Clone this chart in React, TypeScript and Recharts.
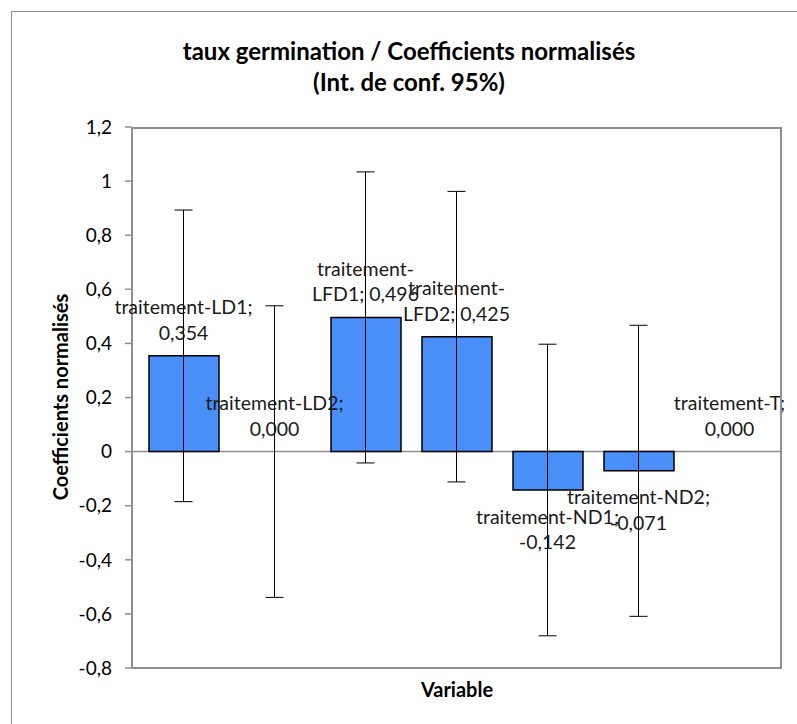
import {
  Bar,
  CartesianGrid,
  ComposedChart,
  ErrorBar,
  LabelList,
  Line,
  XAxis,
  YAxis,
} from "recharts";

const categories = [
  "traitement-LD1",
  "traitement-LD2",
  "traitement-LFD1",
  "traitement-LFD2",
  "traitement-ND1",
  "traitement-ND2",
  "traitement-T",
];
const coefficients = [0.354, 0.0, 0.496, 0.425, -0.142, -0.071, 0.0];
// half width of the 95% confidence interval
const ciHalfWidth = [0.539, 0.539, 0.538, 0.537, 0.539, 0.538, 0.0];
const yTicks = [-0.8, -0.6, -0.4, -0.2, 0, 0.2, 0.4, 0.6, 0.8, 1, 1.2];

const FONT = "Lato, Carlito, Calibri, 'Open Sans', sans-serif";
const GRAY = "#8f8f8f";
const BAR_FILL = "#4a8ff7";

const rows = categories.map((name, i) => ({
  name,
  value: coefficients[i],
  err: ciHalfWidth[i],
}));

function formatTick(v: number): string {
  return String(Number(v.toFixed(1))).replace(".", ",");
}

function formatValue(v: number): string {
  return v.toFixed(3).replace(".", ",");
}

// greedy wrap like Excel's data labels, breaking on spaces and after hyphens
function wrapLabel(text: string, maxChars = 15): string[] {
  const tokens: { t: string; glue: string }[] = [];
  text.split(/\s+/).forEach((word) => {
    word.split(/(?<=\S-)/).forEach((part, j) => {
      tokens.push({ t: part, glue: j === 0 ? " " : "" });
    });
  });
  const lines: string[] = [];
  let cur = "";
  tokens.forEach((tok) => {
    if (!cur) {
      cur = tok.t;
      return;
    }
    const next = cur + tok.glue + tok.t;
    if (next.length <= maxChars) {
      cur = next;
    } else {
      lines.push(cur);
      cur = tok.t;
    }
  });
  if (cur) lines.push(cur);
  return lines;
}

// label drawn at the end of each bar (point of the invisible line series)
function DataLabel(props: any) {
  const { x, y, index } = props;
  const v = coefficients[index];
  const lines = wrapLabel(`${categories[index]}; ${formatValue(v)}`);
  const step = 25.5;
  return (
    <g>
      {lines.map((line, i) => {
        const ly = v >= 0
          ? Number(y) - 23.5 - (lines.length - 1 - i) * step
          : Number(y) + 26 + i * step;
        return (
          <text
            key={i}
            x={Number(x)}
            y={ly}
            textAnchor="middle"
            dominantBaseline="central"
            fontFamily={FONT}
            fontSize={19.5}
            fill="#1a1a1a"
          >
            {line}
          </text>
        );
      })}
    </g>
  );
}

export default function App() {
  return (
    <div
      style={{
        position: "absolute",
        left: 0,
        top: 0,
        width: 797,
        height: 724,
        overflow: "hidden",
        background: "#fff",
        fontFamily: FONT,
      }}
    >
      <div
        style={{
          position: "absolute",
          left: 11,
          top: 11,
          width: 796,
          height: 800,
          border: `1px solid ${GRAY}`,
        }}
      />
      <div
        style={{
          position: "absolute",
          left: 109,
          width: 600,
          top: 35,
          textAlign: "center",
          fontWeight: 700,
          fontSize: 24,
          lineHeight: "31px",
          color: "#000",
        }}
      >
        taux germination / Coefficients normalisés
        <br />
        (Int. de conf. 95%)
      </div>
      <div
        style={{
          position: "absolute",
          left: 60,
          top: 397,
          transform: "translate(-50%, -50%) rotate(-90deg)",
          whiteSpace: "nowrap",
          fontWeight: 700,
          fontSize: 20,
          color: "#000",
        }}
      >
        Coefficients normalisés
      </div>
      <div
        style={{
          position: "absolute",
          left: 457,
          top: 689,
          transform: "translate(-50%, -50%)",
          whiteSpace: "nowrap",
          fontWeight: 700,
          fontSize: 20,
          color: "#000",
        }}
      >
        Variable
      </div>
      <div style={{ position: "absolute", left: 0, top: 0 }}>
        <ComposedChart
          width={797}
          height={724}
          data={rows}
          margin={{ top: 127, right: 15, bottom: 0, left: 0 }}
        >
          <CartesianGrid
            vertical={false}
            horizontalValues={[0]}
            stroke={GRAY}
            strokeWidth={1.5}
          />
          <XAxis
            dataKey="name"
            height={56}
            tick={false}
            tickLine={false}
            axisLine={{ stroke: GRAY, strokeWidth: 2 }}
            padding={{ left: 6, right: 7 }}
          />
          <YAxis
            width={132}
            domain={[-0.8, 1.2]}
            ticks={yTicks}
            interval={0}
            tickFormatter={formatTick}
            tickSize={7}
            tickMargin={13}
            tick={{ fontSize: 19, fill: "#000", fontFamily: FONT }}
            tickLine={{ stroke: GRAY, strokeWidth: 1.5 }}
            axisLine={{ stroke: GRAY, strokeWidth: 2 }}
          />
          <Bar
            dataKey="value"
            barSize={70}
            fill={BAR_FILL}
            stroke="#000"
            strokeWidth={1.5}
            isAnimationActive={false}
          />
          <Line
            dataKey="value"
            stroke="none"
            dot={false}
            activeDot={false}
            isAnimationActive={false}
          >
            <ErrorBar
              dataKey="err"
              width={9}
              stroke="#000"
              strokeWidth={1}
              isAnimationActive={false}
            />
            <LabelList dataKey="value" content={<DataLabel />} />
          </Line>
        </ComposedChart>
      </div>
      <div
        style={{
          position: "absolute",
          left: 132,
          top: 127,
          width: 650,
          height: 541,
          boxSizing: "border-box",
          borderTop: `2px solid ${GRAY}`,
          borderRight: `2px solid ${GRAY}`,
          pointerEvents: "none",
        }}
      />
    </div>
  );
}
